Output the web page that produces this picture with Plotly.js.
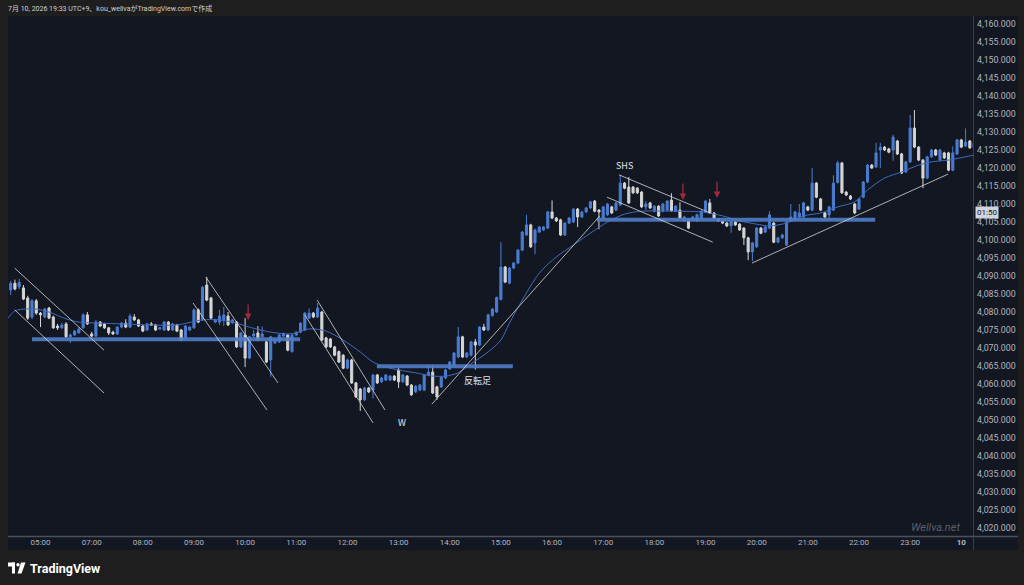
<!DOCTYPE html>
<html><head><meta charset="utf-8">
<script src="https://cdn.plot.ly/plotly-3.0.1.min.js"></script>
<style>html,body{margin:0;padding:0;background:#1e1e1e;}#chart{width:1024px;height:585px;}</style>
</head><body><div id="chart"></div>
<script>
// 5-minute candles, first candle index -8 (04:20), 05:00 = 0, 07:00 = 12 (06:00 hour is closed)
const firstIndex = -8;
const openP = [
4086.1,4086.1,4088.0,4087.0,4086.7,4083.9,4078.6,4083.1,
4079.7,4078.6,4081.1,4078.6,4076.1,4075.6,4076.7,4073.1,4073.6,4074.2,4075.6,4079.2,
4073.9,4073.3,4077.2,4076.7,4075.6,4074.4,4073.9,4075.8,4076.9,4075.8,4078.6,4077.8,
4076.1,4075.0,4076.7,4076.4,4075.3,4075.0,4077.2,4075.0,4076.4,4075.0,4072.8,4075.0,
4075.6,4080.6,4077.8,4087.5,4083.9,4077.2,4077.2,4077.8,4078.9,4077.0,4077.2,4070.3,
4073.6,4067.2,4073.3,4074.2,4073.1,4071.7,4066.7,4071.4,4071.7,4073.3,4073.6,4069.0,
4073.6,4074.4,4075.0,4078.3,4079.7,4078.6,4080.0,4072.8,4072.5,4070.3,4069.0,4068.0,
4064.4,4066.7,4060.3,4058.6,4055.6,4058.9,4058.3,4062.5,4060.6,4061.1,4061.1,4062.2,
4063.9,4060.6,4062.2,4059.7,4057.8,4058.3,4058.3,4062.5,4063.3,4059.2,4059.2,4061.7,
4064.2,4065.3,4067.5,4073.1,4067.5,4068.0,4071.7,4070.8,4075.8,4075.0,4079.0,4080.0,
4083.5,4092.5,4088.0,4092.2,4093.6,4097.2,4101.4,4104.2,4099.2,4102.2,4102.8,4103.3,
4107.8,4106.1,4105.6,4101.4,4104.7,4105.0,4108.6,4106.4,4107.8,4108.9,4110.8,4108.3,
4106.1,4107.0,4109.2,4108.3,4109.7,4115.8,4114.7,4114.7,4114.4,4113.3,4109.2,4110.3,
4108.0,4109.4,4108.0,4108.3,4111.1,4108.0,4108.3,4105.3,4105.6,4105.6,4105.3,4106.1,
4107.8,4110.3,4107.5,4105.8,4105.3,4104.7,4104.0,4105.0,4104.4,4103.3,4100.6,4096.7,
4098.1,4103.3,4102.2,4103.3,4104.7,4099.4,4100.6,4098.6,4105.3,4105.6,4106.4,4106.4,
4109.2,4108.3,4115.8,4111.4,4107.5,4107.0,4108.3,4116.0,4121.4,4113.3,4112.2,4110.0,
4108.6,4111.9,4116.1,4120.8,4120.3,4125.0,4125.8,4125.3,4125.0,4127.5,4123.9,4118.9,
4121.7,4131.1,4125.8,4122.2,4117.2,4123.1,4125.0,4122.2,4124.2,4124.2,4119.4,4123.9,
4127.8,4126.1,4127.5,4125.6];
const highP = [
4088.5,4088.6,4089.0,4089.2,4087.5,4084.5,4083.6,4083.6,
4080.0,4081.1,4081.4,4079.0,4076.7,4077.0,4077.2,4074.0,4075.0,4075.8,4079.7,4080.0,
4074.5,4077.8,4077.5,4077.0,4075.8,4074.8,4076.1,4077.2,4078.0,4079.5,4079.4,4078.1,
4076.4,4077.0,4077.2,4076.7,4075.9,4077.5,4077.5,4077.0,4076.7,4075.3,4076.4,4076.1,
4081.0,4081.0,4087.2,4089.7,4084.2,4078.1,4080.6,4081.4,4080.0,4078.1,4077.5,4074.5,
4078.3,4073.4,4075.0,4076.1,4076.0,4072.0,4073.4,4072.5,4073.9,4074.3,4073.9,4073.9,
4074.7,4077.2,4080.0,4081.0,4080.0,4082.5,4080.3,4073.1,4072.8,4070.6,4069.3,4068.3,
4067.0,4067.0,4060.6,4058.9,4059.2,4059.2,4062.8,4062.8,4062.0,4062.8,4062.5,4062.5,
4064.5,4062.8,4062.5,4060.0,4059.7,4060.0,4062.8,4065.3,4065.3,4059.5,4062.2,4064.2,
4066.4,4068.9,4075.8,4073.4,4068.9,4072.0,4072.5,4076.1,4076.7,4079.5,4081.1,4084.3,
4099.4,4092.8,4092.5,4093.9,4097.5,4102.5,4107.0,4104.5,4103.1,4103.9,4103.9,4108.1,
4111.0,4106.4,4105.9,4105.0,4106.4,4108.9,4108.9,4108.1,4109.2,4110.9,4111.1,4108.6,
4109.5,4110.3,4109.5,4110.6,4118.0,4116.1,4117.5,4115.0,4114.7,4113.6,4110.8,4110.6,
4109.7,4109.7,4110.3,4111.1,4113.0,4109.7,4110.5,4106.7,4105.9,4106.7,4107.3,4108.3,
4111.1,4111.4,4107.8,4106.1,4105.6,4105.0,4105.3,4105.3,4104.7,4103.6,4100.9,4099.5,
4103.6,4103.6,4103.9,4108.0,4105.0,4100.9,4101.7,4105.3,4110.0,4108.1,4110.0,4110.6,
4109.5,4120.0,4116.1,4111.7,4107.8,4109.5,4118.0,4122.0,4121.7,4113.6,4112.5,4110.3,
4111.7,4116.4,4121.1,4121.1,4127.0,4127.0,4126.1,4125.6,4129.2,4127.8,4124.2,4122.0,
4134.7,4136.1,4126.1,4122.5,4123.4,4125.3,4125.3,4125.3,4124.5,4124.5,4126.0,4128.1,
4128.1,4131.0,4127.8,4127.2];
const lowP = [
4085.5,4084.7,4086.0,4086.3,4083.3,4077.8,4078.0,4079.2,
4075.8,4078.3,4078.0,4075.3,4075.0,4075.3,4072.8,4071.4,4073.3,4074.0,4075.3,4076.4,
4073.0,4073.0,4075.8,4075.3,4073.6,4073.6,4073.6,4075.5,4075.5,4075.5,4077.5,4075.8,
4074.4,4074.7,4076.1,4074.7,4075.0,4074.7,4074.7,4074.7,4074.4,4071.9,4072.5,4074.7,
4075.3,4076.9,4077.5,4083.0,4078.0,4076.9,4076.4,4076.1,4076.1,4076.7,4070.0,4070.0,
4064.7,4066.9,4073.0,4071.9,4072.8,4065.8,4062.0,4071.1,4071.4,4073.0,4069.1,4068.7,
4073.3,4074.1,4074.7,4078.0,4078.3,4078.3,4071.9,4070.0,4070.0,4067.7,4065.8,4064.1,
4064.1,4060.0,4056.1,4052.5,4055.3,4057.5,4056.0,4060.0,4060.3,4060.8,4060.8,4060.8,
4058.9,4060.3,4059.4,4056.7,4057.5,4058.0,4058.0,4062.2,4057.2,4055.6,4058.9,4061.4,
4063.9,4065.0,4067.2,4067.2,4067.2,4067.7,4064.0,4070.5,4074.7,4074.7,4078.7,4079.7,
4083.2,4088.0,4087.7,4091.9,4093.3,4096.9,4101.1,4097.8,4096.0,4101.9,4102.5,4103.0,
4105.8,4105.0,4101.1,4101.1,4104.4,4104.7,4103.6,4106.1,4107.5,4108.6,4107.7,4103.0,
4105.8,4106.7,4107.2,4108.0,4109.4,4114.1,4110.0,4112.8,4112.8,4108.9,4108.3,4108.6,
4107.7,4106.4,4107.7,4108.0,4107.8,4107.7,4105.8,4105.0,4103.0,4105.3,4105.0,4105.8,
4107.5,4107.2,4105.8,4105.0,4104.4,4103.6,4102.0,4103.9,4102.5,4098.6,4094.4,4094.2,
4097.8,4101.6,4101.9,4103.0,4099.1,4099.1,4100.3,4098.3,4105.0,4105.3,4106.1,4106.1,
4108.0,4108.0,4111.6,4108.0,4106.1,4105.8,4108.0,4115.7,4112.8,4112.2,4111.1,4107.2,
4108.3,4111.6,4115.8,4119.7,4120.0,4120.0,4124.7,4124.1,4122.0,4123.6,4118.3,4118.6,
4121.4,4125.5,4121.9,4114.4,4116.9,4122.8,4123.3,4121.9,4122.5,4119.1,4119.1,4123.6,
4125.5,4125.8,4125.3,4125.3];
const closeP = [
4087.5,4088.0,4086.4,4088.2,4083.6,4078.3,4083.1,4079.7,
4079.2,4080.8,4078.3,4075.6,4075.6,4076.4,4073.1,4073.6,4074.7,4075.3,4079.2,4076.7,
4073.3,4077.2,4076.1,4075.6,4074.2,4073.9,4075.8,4076.9,4075.8,4078.9,4077.8,4076.1,
4074.7,4076.7,4076.4,4075.0,4075.6,4077.2,4075.0,4076.7,4074.7,4072.2,4076.1,4075.8,
4080.6,4077.2,4086.9,4083.3,4078.3,4077.8,4078.9,4079.2,4076.4,4077.8,4070.3,4074.2,
4067.2,4073.1,4073.9,4072.2,4073.9,4066.1,4073.1,4072.2,4073.6,4074.0,4069.4,4073.6,
4074.4,4076.9,4079.7,4079.7,4078.6,4081.1,4072.2,4070.3,4070.3,4068.0,4066.1,4064.4,
4066.7,4060.3,4056.4,4055.6,4058.9,4057.8,4062.5,4060.3,4061.7,4062.5,4062.2,4061.1,
4060.6,4062.5,4059.7,4057.0,4059.4,4059.7,4062.5,4063.3,4057.5,4056.4,4061.9,4063.9,
4066.1,4068.6,4073.1,4067.5,4068.6,4071.7,4070.8,4075.8,4075.0,4079.2,4080.8,4084.0,
4092.5,4088.3,4092.2,4093.6,4097.2,4102.2,4104.2,4098.1,4102.8,4103.6,4103.6,4107.8,
4106.1,4105.3,4101.4,4104.7,4106.1,4108.6,4106.4,4107.8,4108.9,4110.6,4108.0,4107.8,
4109.2,4110.0,4107.5,4110.3,4115.8,4114.4,4110.3,4113.1,4113.1,4109.2,4110.0,4108.9,
4109.4,4106.7,4110.0,4110.8,4108.1,4109.4,4106.1,4106.4,4103.3,4106.4,4107.0,4108.0,
4110.8,4107.5,4106.1,4105.3,4104.7,4103.9,4105.0,4104.2,4102.8,4100.6,4096.7,4099.2,
4103.3,4101.9,4103.6,4107.0,4099.4,4100.6,4101.4,4105.0,4106.4,4107.8,4107.5,4110.3,
4108.3,4115.8,4111.9,4108.3,4106.4,4109.2,4115.8,4121.4,4113.1,4112.5,4111.4,4107.5,
4111.4,4116.1,4120.8,4120.0,4124.2,4125.8,4125.0,4124.4,4128.6,4123.9,4118.6,4121.7,
4131.1,4125.8,4122.2,4117.2,4123.1,4125.0,4123.6,4125.0,4122.8,4119.4,4124.2,4127.8,
4125.8,4127.2,4125.6,4126.9];

// moving average (candle index, price)
const maK = [-8,-6,-4,-1,2,6,9,14,19,26,32,38,42,46,49,54,58,60,63,67,71,75,78,81,84,88,92,95,98,101,105,108,110,113,117,121,125,129,133,137,141,148,155,160,164,168,171,175,179,183,187,191,194,198,202,206,209,213,219];
const maVal = [4077.8,4080.3,4080.8,4080.8,4080.0,4078.1,4077.2,4076.9,4076.7,4076.4,4076.4,4077.8,4077.8,4076.9,4075.8,4074.4,4073.9,4074.2,4075.3,4074.7,4072.2,4068.9,4066.1,4064.7,4063.9,4063.1,4062.2,4062.2,4063.1,4065.6,4068.9,4072.2,4076.9,4083.3,4090.8,4095.3,4098.6,4101.9,4105.0,4107.2,4108.0,4108.0,4107.8,4106.7,4105.3,4104.4,4103.9,4104.7,4106.7,4107.5,4109.2,4110.6,4113.9,4117.2,4118.9,4120.8,4121.7,4122.2,4123.6];

// time axis
const tickPos = [0,12,24,36,48,60,72,84,96,108,120,132,144,156,168,180,192,204,216];
const tickText = ['05:00','07:00','08:00','09:00','10:00','11:00','12:00','13:00','14:00','15:00','16:00','17:00','18:00','19:00','20:00','21:00','22:00','23:00','<b>10</b>'];

// drawings: horizontal levels
const levelPrice = [4072.4, 4064.9, 4105.6];
const levelFrom = [-2.0, 78.9, 130.5];
const levelTo = [60.9, 110.8, 195.8];
// drawings: trend lines
const tlX0 = [-6.05,-6.05,38.8,35.8,64.9,62.0,91.8,135.7,132.9,166.9];
const tlY0 = [4092.2,4080.6,4089.7,4082.5,4083.3,4079.2,4054.4,4118.1,4111.9,4093.6];
const tlX1 = [14.9,14.9,55.7,53.1,80.8,78.0,131.2,157.1,157.7,212.9];
const tlY1 = [4069.4,4057.5,4060.3,4052.8,4052.8,4049.2,4106.7,4107.5,4099.4,4118.3];
// drawings: red arrows
const arK = [48.7, 150.7, 158.7];
const arTop = [4082.5, 4116.1, 4116.7];
const arBot = [4077.8, 4111.1, 4111.7];
// drawing labels
const lblText = ['SHS','W','反転足'];
const lblK = [136.9, 84.8, 102.6];
const lblP = [4120.6, 4049.4, 4061.1];

const UP = '#4a7dd1', DN = '#d6d6d6';
const xs = openP.map((_, i) => i + firstIndex);

// pixel -> paper helpers for the chrome
const L = 8, R = 973, T = 16, B = 536, W = R - L, H = B - T;
const px = v => (v - L) / W, py = v => (B - v) / H;

const shapes = [];
shapes.push({type:'rect', xref:'paper', yref:'paper', x0:px(8), x1:px(1018), y0:py(550), y1:py(16), fillcolor:'#131722', line:{width:0}, layer:'below'});
shapes.push({type:'line', xref:'paper', yref:'paper', x0:px(973.5), x1:px(973.5), y0:py(550), y1:py(16), line:{color:'#3a3e48', width:1}});
shapes.push({type:'line', xref:'paper', yref:'paper', x0:px(8), x1:px(1018), y0:py(536.5), y1:py(536.5), line:{color:'#4c505a', width:1.5}});
levelPrice.forEach((p, i) => shapes.push({type:'line', xref:'x', yref:'y', x0:levelFrom[i], x1:levelTo[i], y0:p, y1:p, line:{color:'#4f7dc4', width:4}, opacity:0.9, layer:'above'}));
tlX0.forEach((x, i) => shapes.push({type:'line', xref:'x', yref:'y', x0:x, y0:tlY0[i], x1:tlX1[i], y1:tlY1[i], line:{color:'rgba(215,215,215,0.8)', width:1}, layer:'above'}));
// TradingView logo
shapes.push({type:'rect', xref:'paper', yref:'paper', x0:px(8), x1:px(15), y0:py(566.5), y1:py(562.5), fillcolor:'#ffffff', line:{width:0}});
shapes.push({type:'rect', xref:'paper', yref:'paper', x0:px(12), x1:px(15), y0:py(573.5), y1:py(562.5), fillcolor:'#ffffff', line:{width:0}});
shapes.push({type:'circle', xref:'paper', yref:'paper', x0:px(16.3), x1:px(19.7), y0:py(566.4), y1:py(563), fillcolor:'#ffffff', line:{width:0}});
shapes.push({type:'path', xref:'paper', yref:'paper', path:`M ${px(21)} ${py(562.5)} L ${px(25.5)} ${py(562.5)} L ${px(21.5)} ${py(573.5)} L ${px(17.5)} ${py(573.5)} Z`, fillcolor:'#ffffff', line:{width:0}});

const annotations = [];
annotations.push({xref:'paper', yref:'paper', x:px(6), y:py(8), xanchor:'left', yanchor:'middle', showarrow:false, text:'7月 10, 2026 19:33 UTC+9、kou_wellvaがTradingView.comで作成', font:{size:7, color:'#d0d0d0', family:'Roboto, "Noto Sans CJK JP", sans-serif'}});
annotations.push({xref:'paper', yref:'paper', x:px(28), y:py(568), xanchor:'left', yanchor:'middle', showarrow:false, text:'<b>TradingView</b>', font:{size:12.5, color:'#ffffff', family:'Roboto, sans-serif'}});
annotations.push({xref:'paper', yref:'paper', x:px(962), y:py(527), xanchor:'right', yanchor:'middle', showarrow:false, text:'<i>Wellva.net</i>', font:{size:11, color:'#5b5e68', family:'Roboto, sans-serif'}});
annotations.push({xref:'paper', yref:'paper', x:px(987), y:py(212.5), xanchor:'center', yanchor:'middle', showarrow:false, text:'01:50', bgcolor:'#d1d4dc', borderpad:1, font:{size:8, color:'#131722', family:'Roboto, sans-serif'}});
arK.forEach((k, i) => annotations.push({xref:'x', yref:'y', axref:'x', ayref:'y', x:k, y:arBot[i], ax:k, ay:arTop[i], showarrow:true, arrowhead:2, arrowsize:1, arrowwidth:1.3, arrowcolor:'#a3283a', text:''}));
lblText.forEach((t, i) => annotations.push({xref:'x', yref:'y', x:lblK[i], y:lblP[i], showarrow:false, text:t, font:{size:9, color:'#e0e3eb', family:'"Noto Sans CJK JP", Roboto, sans-serif'}}));

const data = [
  {type:'scatter', mode:'lines', x:maK, y:maVal, line:{color:'#3d6cc0', width:1, shape:'spline', smoothing:0.8}, hoverinfo:'skip', showlegend:false},
  {type:'candlestick', x:xs, open:openP, high:highP, low:lowP, close:closeP,
   increasing:{line:{color:UP, width:1}, fillcolor:UP},
   decreasing:{line:{color:DN, width:1}, fillcolor:DN},
   whiskerwidth:0, hoverinfo:'skip', showlegend:false}
];

const layout = {
  width:1024, height:585,
  margin:{l:L, r:1024 - R, t:T, b:585 - B, pad:0},
  paper_bgcolor:'#1e1e1e', plot_bgcolor:'#131722',
  showlegend:false, hovermode:false, dragmode:false, boxgap:0.3,
  font:{family:'Roboto, sans-serif', color:'#b2b5be', size:8},
  xaxis:{type:'linear', range:[(L - 40.5) / 4.263, (R - 40.5) / 4.263], tickvals:tickPos, ticktext:tickText,
         showgrid:false, zeroline:false, showline:false, ticks:'', tickfont:{size:8, color:'#b2b5be'}, rangeslider:{visible:false}, fixedrange:true},
  yaxis:{side:'right', range:[4160 - 512 / 3.6, 4160 + 8 / 3.6], tick0:4020, dtick:5, tickformat:',.3f', ticklabelstandoff:3,
         showgrid:false, zeroline:false, showline:false, ticks:'', tickfont:{size:8.8, color:'#b2b5be'}, fixedrange:true},
  shapes:shapes, annotations:annotations
};

Plotly.newPlot('chart', data, layout, {staticPlot:true, displayModeBar:false});
</script></body></html>
